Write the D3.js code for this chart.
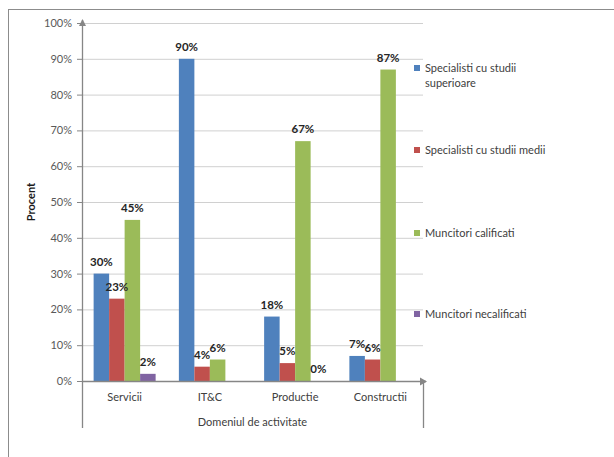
<!DOCTYPE html>
<html>
<head>
<meta charset="utf-8">
<script src="https://cdn.jsdelivr.net/npm/d3@7"></script>
<style>
  body { margin: 0; background: #fff; }
  text { font-family: Lato, "Liberation Sans", sans-serif; }
</style>
</head>
<body>
<div id="chart"></div>
<script>
// data
const categories = ["Servicii", "IT&C", "Productie", "Constructii"];
const seriesNames = ["Specialisti cu studii superioare", "Specialisti cu studii medii", "Muncitori calificati", "Muncitori necalificati"];
const superioare = [30, 90, 18, 7];
const medii = [23, 4, 5, 6];
const calificati = [45, 6, 67, 87];
const necalificati = [2, null, 0, null];
const yTicks = [0, 10, 20, 30, 40, 50, 60, 70, 80, 90, 100];
const colors = ["#4F81BD", "#C0504D", "#9BBB59", "#8064A2"];

const values = [superioare, medii, calificati, necalificati];
const rows = [];
categories.forEach((c, i) => {
    seriesNames.forEach((s, j) => {
        rows.push({cat: c, series: s, idx: j, value: values[j][i]});
    });
});

// set the dimensions and margins of the graph
const W = 614, H = 457;
const margin = {top: 23, right: 191, bottom: 76, left: 82},
      width = W - margin.left - margin.right,
      height = H - margin.top - margin.bottom;

const root = d3.select("#chart")
    .append("svg")
    .attr("width", W)
    .attr("height", H);

// outer frame
root.append("rect")
    .attr("x", 8.5).attr("y", 9.5)
    .attr("width", 700).attr("height", 600)
    .attr("fill", "none")
    .attr("stroke", "#8c8c8c")
    .attr("stroke-width", 1);

const svg = root.append("g")
    .attr("transform", `translate(${margin.left}, ${margin.top})`);

const x0 = d3.scaleBand()
    .domain(categories)
    .range([0, width]);

const x1 = d3.scaleBand()
    .domain(seriesNames)
    .range([0, x0.bandwidth()])
    .paddingInner(0)
    .paddingOuter(0.75);

const y = d3.scaleLinear()
    .domain([0, 100])
    .range([height, 0]);

// gridlines
svg.append("g")
    .call(d3.axisLeft(y).tickValues(yTicks.slice(1)).tickSize(-width).tickFormat(""))
    .call(g => g.select(".domain").remove())
    .call(g => g.selectAll("line").attr("stroke", "#d0d0d0"));

// Y axis
svg.append("g")
    .call(d3.axisLeft(y).tickValues(yTicks).tickSize(5).tickPadding(5).tickFormat(d => d + "%"))
    .call(g => g.select(".domain").remove())
    .call(g => g.selectAll("line").attr("stroke", "#868686"))
    .call(g => g.selectAll("text")
        .attr("fill", "#595959")
        .style("font-size", "11px")
        .style("font-family", "Lato, 'Liberation Sans', sans-serif"));

// bars
svg.append("g")
    .selectAll("rect")
    .data(rows.filter(d => d.value !== null))
    .join("rect")
        .attr("x", d => x0(d.cat) + x1(d.series))
        .attr("y", d => y(d.value))
        .attr("width", x1.bandwidth())
        .attr("height", d => height - y(d.value))
        .attr("fill", d => colors[d.idx]);

// data labels
svg.append("g")
    .selectAll("text")
    .data(rows.filter(d => d.value !== null))
    .join("text")
        .attr("x", d => x0(d.cat) + x1(d.series) + x1.bandwidth() / 2)
        .attr("y", d => y(d.value) - 8)
        .attr("text-anchor", "middle")
        .attr("font-size", 11.5)
        .attr("font-weight", "bold")
        .attr("fill", "#262626")
        .text(d => d.value + "%");

// axis lines with arrows
const axisColor = "#868686";
svg.append("path")
    .attr("d", `M0.5,${height + 47} V-3`)
    .attr("stroke", axisColor).attr("fill", "none").attr("stroke-width", 1.3);
svg.append("path")
    .attr("d", `M-3,3 L0.5,-4 L4,3 Z`)
    .attr("fill", axisColor);
svg.append("path")
    .attr("d", `M0,${height + 0.5} H${width + 3}`)
    .attr("stroke", axisColor).attr("fill", "none").attr("stroke-width", 1.3);
svg.append("path")
    .attr("d", `M${width - 3},${height - 3.5} L${width + 4},${height + 0.5} L${width - 3},${height + 4.5} Z`)
    .attr("fill", axisColor);
svg.append("path")
    .attr("d", `M${width + 0.5},${height} V${height + 47}`)
    .attr("stroke", axisColor).attr("fill", "none").attr("stroke-width", 1.3);

// category labels
svg.append("g")
    .selectAll("text")
    .data(categories)
    .join("text")
        .attr("x", d => x0(d) + x0.bandwidth() / 2)
        .attr("y", height + 20)
        .attr("text-anchor", "middle")
        .attr("font-size", 11)
        .attr("fill", "#404040")
        .text(d => d);

// X axis label
svg.append("text")
    .attr("x", width / 2)
    .attr("y", height + 45)
    .attr("text-anchor", "middle")
    .attr("font-size", 11)
    .attr("fill", "#404040")
    .text("Domeniul de activitate");

// Y axis label
svg.append("text")
    .attr("transform", "rotate(-90)")
    .attr("x", -height / 2)
    .attr("y", -47)
    .attr("text-anchor", "middle")
    .attr("font-size", 11)
    .attr("font-weight", "bold")
    .attr("fill", "#1a1a1a")
    .text("Procent");

// legend
const legendY = [68, 150, 233, 314];
const legendLines = [["Specialisti cu studii", "superioare"], ["Specialisti cu studii medii"], ["Muncitori calificati"], ["Muncitori necalificati"]];
const legend = root.append("g")
    .selectAll("g")
    .data(seriesNames)
    .join("g")
        .attr("transform", (d, i) => `translate(414, ${legendY[i]})`);

legend.append("rect")
    .attr("x", 0).attr("y", -3)
    .attr("width", 6).attr("height", 6)
    .attr("fill", (d, i) => colors[i]);

legend.append("text")
    .attr("x", 11)
    .attr("y", 4)
    .attr("font-size", 11)
    .attr("fill", "#404040")
    .selectAll("tspan")
    .data((d, i) => legendLines[i])
    .join("tspan")
        .attr("x", 11)
        .attr("dy", (d, k) => k === 0 ? 0 : 15)
        .text(d => d);
</script>
</body>
</html>
